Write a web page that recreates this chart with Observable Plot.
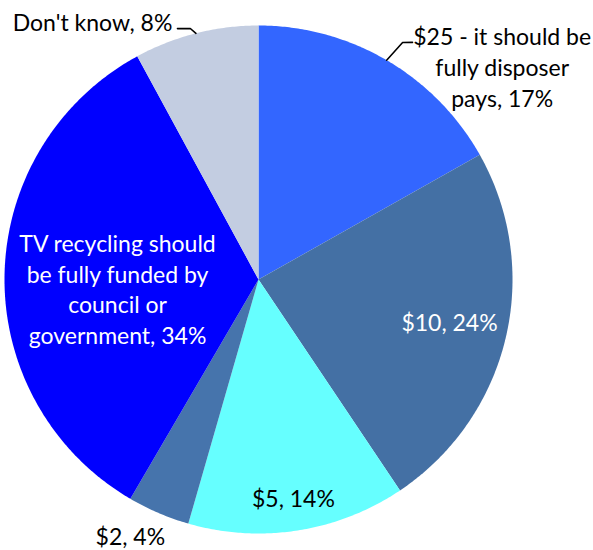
<!DOCTYPE html>
<html>
<head>
<meta charset="utf-8">
<script src="https://cdn.jsdelivr.net/npm/d3@7"></script>
<script src="https://cdn.jsdelivr.net/npm/@observablehq/plot@0.6"></script>
<style>
  html, body { margin: 0; padding: 0; background: #fff; }
  #chart svg { display: block; }
</style>
</head>
<body>
<div id="chart"></div>
<script>
// ---- data ----
const categories = [
  "$25 - it should be fully disposer pays",
  "$10",
  "$5",
  "$2",
  "TV recycling should be fully funded by council or government",
  "Don't know"
];
const values = [17, 24, 14, 4, 34, 8];
const labels = [
  "$25 - it should be\nfully disposer\npays, 17%",
  "$10, 24%",
  "$5, 14%",
  "$2, 4%",
  "TV recycling should\nbe fully funded by\ncouncil or\ngovernment, 34%",
  "Don't know, 8%"
];
const colors = ["#3366FF", "#4470A4", "#66FFFF", "#4674AC", "#0000FF", "#C3CDE1"];

// ---- layout (not data) ----
const W = 593, H = 550;
const CX = 258, CY = 279, R = 254; // pie centre / radius in pixels
// label placement: polar angle (deg, clockwise from top) and radius factor
const labelPlace = [
  {angle: 48.8, r: 1.275, color: "black"},
  {angle: 102.4, r: 0.770, color: "white"},
  {angle: 170.9, r: 0.869, color: "black"},
  {angle: 206.6, r: 1.127, color: "black"},
  {angle: 266.5, r: 0.556, color: "white"},
  {angle: 327.25, r: 1.208, color: "black"}
];
// leader lines: [slice index, elbow polar, end polar]
const leaderPlace = [
  {i: 0, pts: [[31.3, 1.092], [33.0, 1.113]]},
  {i: 5, pts: [[344.8, 1.024], [342.1, 1.038]]}
];

// ---- derived geometry ----
const rad = d => d * Math.PI / 180;
const pt = (deg, r) => ({x: r * Math.sin(rad(deg)), y: -r * Math.cos(rad(deg))});
const total = d3.sum(values);
const slices = [];
let acc = 0;
const mids = [];
values.forEach((v, i) => {
  const a0 = acc / total * 360;
  acc += v;
  const a1 = acc / total * 360;
  mids.push((a0 + a1) / 2);
  const poly = [{name: categories[i], ...pt(0, 0)}];
  const n = Math.max(2, Math.ceil((a1 - a0) / 0.5));
  for (let k = 0; k <= n; k++) {
    poly.push({name: categories[i], ...pt(a0 + (a1 - a0) * k / n, 1)});
  }
  poly.push({name: categories[i], ...pt(0, 0)});
  slices.push(...poly);
});

const labelRows = labels.map((t, i) => ({
  text: t,
  color: labelPlace[i].color,
  ...pt(labelPlace[i].angle, labelPlace[i].r)
}));

const leaderRows = [];
leaderPlace.forEach(l => {
  leaderRows.push({id: l.i, ...pt(mids[l.i], 1)});
  l.pts.forEach(([a, r]) => leaderRows.push({id: l.i, ...pt(a, r)}));
});

const chart = Plot.plot({
  width: W,
  height: H,
  margin: 0,
  style: {background: "white", overflow: "visible"},
  x: {domain: [-CX / R, (W - CX) / R], range: [0, W], axis: null},
  y: {domain: [-CY / R, (H - CY) / R], range: [0, H], axis: null},
  color: {type: "ordinal", domain: categories, range: colors},
  marks: [
    Plot.line(slices, {x: "x", y: "y", z: "name", fill: "name", stroke: "none", curve: "linear"}),
    Plot.line(leaderRows, {x: "x", y: "y", z: "id", stroke: "black", strokeWidth: 1.6, curve: "linear"}),
    Plot.text(labelRows.filter(d => d.color === "black"), {
      x: "x", y: "y", text: "text", fill: "black",
      fontFamily: "Lato", fontSize: 23, lineHeight: 1.33, textAnchor: "middle"
    }),
    Plot.text(labelRows.filter(d => d.color === "white"), {
      x: "x", y: "y", text: "text", fill: "white",
      fontFamily: "Lato", fontSize: 23, lineHeight: 1.33, textAnchor: "middle"
    })
  ]
});
document.getElementById("chart").appendChild(chart);
</script>
</body>
</html>
